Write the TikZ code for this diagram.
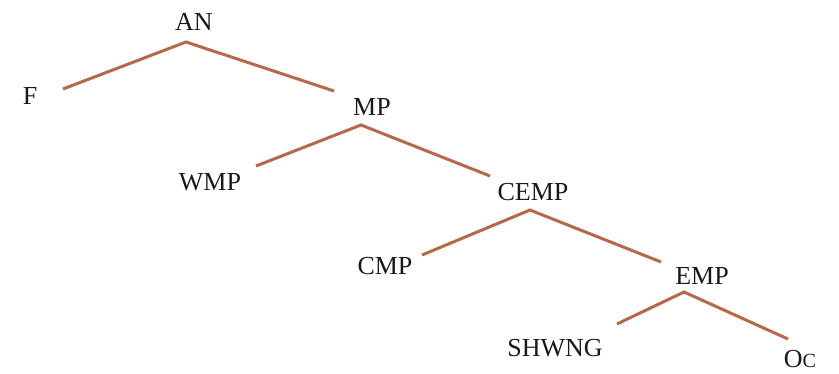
\documentclass[tikz,border=0pt]{standalone}
\usepackage{fontspec}
\setmainfont{Liberation Serif}
\definecolor{branch}{RGB}{184,104,72}
\begin{document}
\begin{tikzpicture}[x=1pt,y=-1pt,
  lab/.style={anchor=base,inner sep=0pt,font=\fontsize{26}{30}\selectfont,text=black!90},
  br/.style={draw=branch,line width=3pt}]
\useasboundingbox (0,0) rectangle (839,374);
% labels
\node[lab] (AN) at (194,31) {AN};
\node[lab] (F) at (30,105) {F};
\node[lab] (MP) at (372,116) {MP};
\node[lab] (WMP) at (210,191) {WMP};
\node[lab] (CEMP) at (533,201) {CEMP};
\node[lab] (CMP) at (385,275) {CMP};
\node[lab] (EMP) at (702,285) {EMP};
\node[lab] (SHWNG) at (555,357) {SHWNG};
\node[lab] (Oc) at (800,368) {O{\fontsize{20}{24}\selectfont C}};
% branch points
\coordinate (ANb) at (186,42);
\coordinate (Ft) at (63,89);
\coordinate (MPt) at (334,91);
\coordinate (MPb) at (361,125);
\coordinate (WMPt) at (256,166);
\coordinate (CEMPt) at (490,176);
\coordinate (CEMPb) at (530,210);
\coordinate (CMPt) at (422,255);
\coordinate (EMPt) at (661,262);
\coordinate (EMPb) at (684,292);
\coordinate (SHt) at (617,324);
\coordinate (Oct) at (788,339);
% branches
\draw[br] (Ft) -- (ANb) -- (MPt);
\draw[br] (WMPt) -- (MPb) -- (CEMPt);
\draw[br] (CMPt) -- (CEMPb) -- (EMPt);
\draw[br] (SHt) -- (EMPb) -- (Oct);
\end{tikzpicture}
\end{document}
